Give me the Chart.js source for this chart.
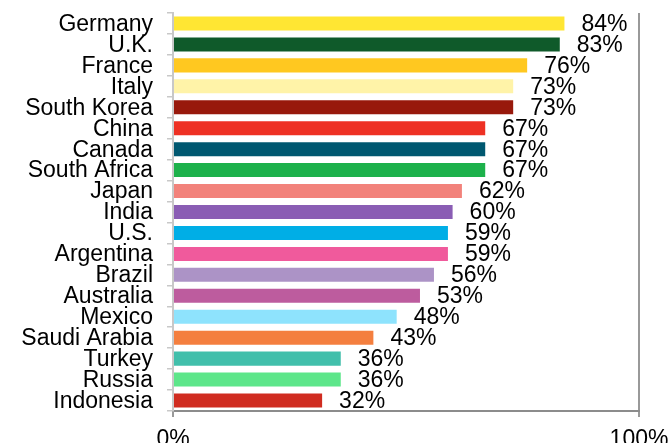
<!DOCTYPE html>
<html>
<head>
<meta charset="utf-8">
<script src="https://cdn.jsdelivr.net/npm/chart.js@4"></script>
<style>
html,body{margin:0;padding:0;background:#fff;}
#wrap{width:668px;height:443px;position:relative;}
</style>
</head>
<body>
<div id="wrap"><canvas id="c"></canvas></div>
<script>
const categories = ["Germany","U.K.","France","Italy","South Korea","China","Canada","South Africa","Japan","India","U.S.","Argentina","Brazil","Australia","Mexico","Saudi Arabia","Turkey","Russia","Indonesia"];
const values = [84,83,76,73,73,67,67,67,62,60,59,59,56,53,48,43,36,36,32];
const barColors = ["#FFE633","#0F5A2A","#FFC820","#FFF3A8","#98190C","#EE3124","#005870","#1DB14B","#F2827B","#8A5DB4","#00AEE6","#F05A9C","#AC93C6","#BD5C9E","#8EE3FD","#F47F3F","#41BFAB","#5DE68A","#D02C20"];
const xTicks = [0,100];

const FONT = {family:"'Liberation Sans', Arial, sans-serif", size:23};

const valueLabels = {
  id:'valueLabels',
  afterDatasetsDraw(chart){
    const ctx = chart.ctx;
    const meta = chart.getDatasetMeta(0);
    ctx.save();
    ctx.font = "23px 'Liberation Sans', Arial, sans-serif";
    ctx.fillStyle = '#000';
    ctx.textAlign = 'left';
    ctx.textBaseline = 'middle';
    meta.data.forEach((el,i)=>{
      ctx.fillText(values[i]+'%', el.x + 17, el.y + 1);
    });
    ctx.restore();
  }
};

new Chart(document.getElementById('c'), {
  type:'bar',
  data:{
    labels:categories,
    datasets:[{data:values, backgroundColor:barColors, borderWidth:0, barPercentage:0.67, categoryPercentage:1}]
  },
  options:{
    indexAxis:'y',
    responsive:true,
    maintainAspectRatio:false,
    animation:false,
    devicePixelRatio:1,
    layout:{padding:{left:0,right:29,top:13,bottom:0}},
    plugins:{legend:{display:false},tooltip:{enabled:false}},
    scales:{
      x:{
        min:0,max:100,
        afterBuildTicks(scale){ scale.ticks = xTicks.map(v=>({value:v})); },
        afterFit(scale){ scale.paddingLeft=0; scale.paddingRight=0; scale.height=32; },
        ticks:{color:'#000', font:FONT, padding:9, maxRotation:0, autoSkip:false, callback:(v)=>v+'%'},
        grid:{color:'#999999', lineWidth:2, tickLength:6, drawOnChartArea:true},
        border:{display:true, color:'#8c8c8c', width:2}
      },
      y:{
        afterFit(scale){ scale.width=173; scale.paddingTop=0; scale.paddingBottom=0; },
        ticks:{color:'#000', font:FONT, padding:14, autoSkip:false, labelOffset:1},
        grid:{display:true, drawOnChartArea:false, color:'#c8c8c8', lineWidth:1.5, tickLength:6, offset:true},
        border:{display:true, color:'#c8c8c8', width:2}
      }
    }
  }
  ,plugins:[valueLabels]
});
</script>
</body>
</html>
